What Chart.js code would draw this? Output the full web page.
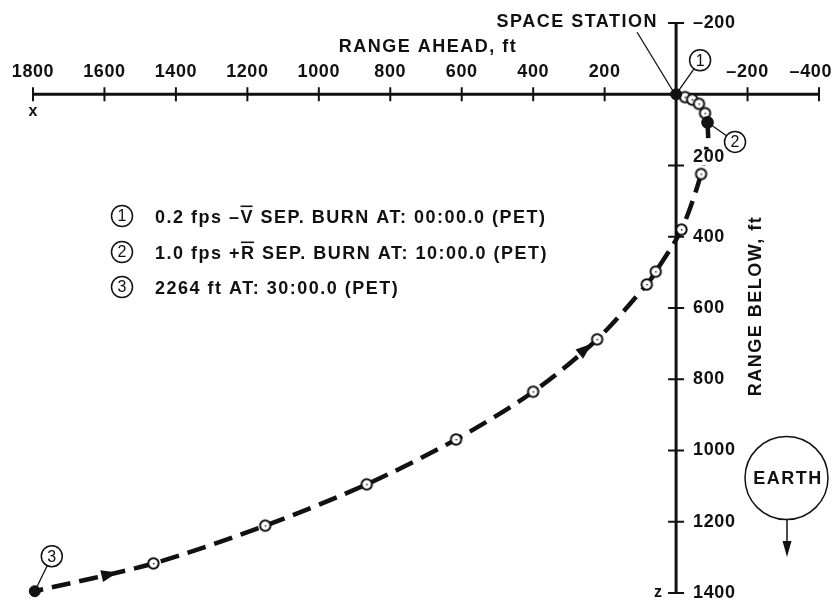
<!DOCTYPE html>
<html>
<head>
<meta charset="utf-8">
<script src="https://cdn.jsdelivr.net/npm/chart.js@4.4.1/dist/chart.umd.min.js"></script>
<style>
  html, body { margin: 0; padding: 0; background: #fff; }
  #chart { display: block; }
</style>
</head>
<body>
<canvas id="chart" width="834" height="600"></canvas>
<script>
// axes (ft): x = range ahead, z = range below
const xTicks = [1800, 1600, 1400, 1200, 1000, 800, 600, 400, 200, 0, -200, -400];
const xTickLabels = ['1800', '1600', '1400', '1200', '1000', '800', '600', '400', '200', '', '–200', '–400'];
const zTicks = [-200, 0, 200, 400, 600, 800, 1000, 1200, 1400];
const zTickLabels = ['–200', '', '200', '400', '600', '800', '1000', '1200', '1400'];

// after the -V sep burn, out to the +R burn
const sepX = [0, -25, -45, -64, -81, -88];
const sepZ = [0, 8, 15, 27, 53, 79];
// the +R burn
const burnX = [-88, -90];
const burnZ = [79, 123];
// drift after the +R burn, out to 30:00
const driftX = [-90, -70, -15, 57, 82, 221, 400, 616, 866, 1150, 1463, 1795];
const driftZ = [123, 224, 380, 498, 534, 688, 835, 969, 1095, 1211, 1317, 1395];
// numbered events
const eventX = [0, -88, 1795];
const eventZ = [0, 79, 1395];
const eventNums = ['1', '2', '3'];
// where the arrowheads sit on the drift path (range ahead)
const arrowAtX = [1575, 245];

// key text, odd parts carry an overbar
const notes = [
  ['0.2 fps –', 'V', ' SEP. BURN AT: 00:00.0 (PET)'],
  ['1.0 fps +', 'R', ' SEP. BURN AT: 10:00.0 (PET)'],
  ['2264 ft AT: 30:00.0 (PET)']
];

const FONT = '"Liberation Sans", Arial, Helvetica, sans-serif';
const INK = '#111';

const pts = (xs, zs) => xs.map((v, i) => ({x: v, y: zs[i]}));

// open circle with a dot in the middle
const openDot = (() => {
  const c = document.createElement('canvas');
  c.width = 15; c.height = 15;
  const g = c.getContext('2d');
  g.beginPath();
  g.arc(7.5, 7.5, 5.2, 0, Math.PI * 2);
  g.fillStyle = '#fff';
  g.fill();
  g.lineWidth = 2;
  g.strokeStyle = INK;
  g.stroke();
  g.fillStyle = INK;
  g.fillRect(7, 7, 1.4, 1.4);
  return c;
})();

function circledNum(ctx, cx, cy, n) {
  ctx.beginPath();
  ctx.arc(cx, cy, 10.5, 0, Math.PI * 2);
  ctx.fillStyle = '#fff';
  ctx.fill();
  ctx.lineWidth = 1.5;
  ctx.strokeStyle = INK;
  ctx.stroke();
  ctx.fillStyle = INK;
  ctx.font = '16px ' + FONT;
  ctx.letterSpacing = '0px';
  ctx.textAlign = 'center';
  ctx.textBaseline = 'middle';
  ctx.fillText(n, cx, cy + 1);
}

const onLine = (line, px) => {
  const p = line.interpolate({x: px}, 'x');
  return Array.isArray(p) ? p[0] : p;
};

const crossAxes = {
  id: 'crossAxes',
  beforeDatasetsDraw(chart) {
    const {ctx, scales: {x, y}} = chart;
    const x0 = x.getPixelForValue(0), y0 = y.getPixelForValue(0);
    ctx.save();
    ctx.strokeStyle = INK;
    ctx.lineWidth = 3;
    ctx.beginPath();
    ctx.moveTo(x.getPixelForValue(xTicks[0]), y0);
    ctx.lineTo(x.getPixelForValue(xTicks[xTicks.length - 1]), y0);
    ctx.moveTo(x0, y.getPixelForValue(zTicks[0]));
    ctx.lineTo(x0, y.getPixelForValue(zTicks[zTicks.length - 1]));
    ctx.stroke();
    ctx.lineWidth = 2;
    ctx.beginPath();
    xTicks.forEach(v => {
      if (v === 0) return;
      const px = x.getPixelForValue(v);
      ctx.moveTo(px, y0 - 7);
      ctx.lineTo(px, y0 + 7);
    });
    zTicks.forEach(v => {
      if (v === 0) return;
      const py = y.getPixelForValue(v);
      ctx.moveTo(x0 - 8, py);
      ctx.lineTo(x0 + 8, py);
    });
    ctx.stroke();
    ctx.restore();
  },
  afterDatasetsDraw(chart) {
    const {ctx, scales: {x, y}} = chart;
    const x0 = x.getPixelForValue(0), y0 = y.getPixelForValue(0);
    ctx.save();
    ctx.fillStyle = INK;

    // tick labels
    ctx.font = 'bold 18px ' + FONT;
    ctx.letterSpacing = '0.6px';
    ctx.textBaseline = 'middle';
    ctx.textAlign = 'center';
    xTicks.forEach((v, i) => {
      const t = xTickLabels[i];
      if (!t) return;
      const w = ctx.measureText(t).width;
      const cx = Math.min(x.getPixelForValue(v), chart.width - 2 - w / 2);
      ctx.fillText(t, cx, y0 - 22);
    });
    ctx.textAlign = 'left';
    zTicks.forEach((v, i) => {
      const t = zTickLabels[i];
      if (!t) return;
      const py = y.getPixelForValue(v) - (v === 200 ? 8 : 0);
      const w = ctx.measureText(t).width;
      ctx.fillStyle = '#fff';
      ctx.fillRect(x0 + 16, py - 8, w + 2, 16);
      ctx.fillStyle = INK;
      ctx.fillText(t, x0 + 17, py);
    });

    // axis letters
    ctx.font = 'bold 16px ' + FONT;
    ctx.letterSpacing = '0px';
    ctx.textAlign = 'center';
    ctx.fillText('x', x.getPixelForValue(xTicks[0]), y0 + 17);
    ctx.fillText('z', x0 - 18, y.getPixelForValue(zTicks[zTicks.length - 1]));

    // titles
    ctx.font = 'bold 18px ' + FONT;
    ctx.letterSpacing = '1.5px';
    ctx.fillText('RANGE AHEAD, ft', 428, 47);
    ctx.save();
    ctx.translate(756, 306);
    ctx.rotate(-Math.PI / 2);
    ctx.fillText('RANGE BELOW, ft', 0, 0);
    ctx.restore();
    ctx.textAlign = 'right';
    ctx.fillText('SPACE STATION', 658, 22);
    ctx.lineWidth = 1.3;
    ctx.strokeStyle = INK;
    ctx.beginPath();
    ctx.moveTo(x0 - 39, y0 - 62);
    ctx.lineTo(x0 - 3, y0 - 3);
    ctx.stroke();

    // arrowheads sitting on the drift path, pointing back toward the station
    const drift = chart.getDatasetMeta(3).dataset;
    arrowAtX.forEach(v => {
      const px = x.getPixelForValue(v);
      const tip = onLine(drift, px);
      const aim = onLine(drift, px + 4);
      if (!tip || !aim) return;
      const a = Math.atan2(aim.y - tip.y, aim.x - tip.x);
      ctx.save();
      ctx.translate(tip.x, tip.y);
      ctx.rotate(a);
      ctx.beginPath();
      ctx.moveTo(4, 0);
      ctx.lineTo(-12, -6);
      ctx.lineTo(-12, 6);
      ctx.closePath();
      ctx.fillStyle = INK;
      ctx.fill();
      ctx.restore();
    });

    // numbered event tags
    const tagOffsets = [[24, -34], [27.5, 19.5], [17, -35]];
    eventX.forEach((v, i) => {
      const px = x.getPixelForValue(v), py = y.getPixelForValue(eventZ[i]);
      const cx = px + tagOffsets[i][0], cy = py + tagOffsets[i][1];
      const len = Math.hypot(px - cx, py - cy);
      const ux = (px - cx) / len, uy = (py - cy) / len;
      ctx.lineWidth = 1.3;
      ctx.strokeStyle = INK;
      ctx.beginPath();
      ctx.moveTo(cx + ux * 10.5, cy + uy * 10.5);
      ctx.lineTo(px - ux * 5, py - uy * 5);
      ctx.stroke();
      circledNum(ctx, cx, cy, eventNums[i]);
    });

    // key
    const keyY = [216, 252, 287];
    notes.forEach((parts, i) => {
      circledNum(ctx, 122, keyY[i], String(i + 1));
      ctx.font = 'bold 18px ' + FONT;
      ctx.letterSpacing = '1.5px';
      ctx.textAlign = 'left';
      ctx.textBaseline = 'alphabetic';
      ctx.fillStyle = INK;
      let tx = 155;
      const base = keyY[i] + 6.5;
      parts.forEach((p, j) => {
        ctx.fillText(p, tx, base);
        const w = ctx.measureText(p).width;
        if (j % 2 === 1) {
          ctx.fillRect(tx, base - 17, w - 1.5, 1.6);
        }
        tx += w;
      });
    });

    // earth
    ctx.lineWidth = 1.5;
    ctx.strokeStyle = INK;
    ctx.beginPath();
    ctx.arc(786.5, 478, 41.5, 0, Math.PI * 2);
    ctx.stroke();
    ctx.font = 'bold 18px ' + FONT;
    ctx.letterSpacing = '1.5px';
    ctx.textAlign = 'center';
    ctx.textBaseline = 'middle';
    ctx.fillText('EARTH', 788, 479);
    ctx.beginPath();
    ctx.moveTo(787, 519.5);
    ctx.lineTo(787, 545);
    ctx.stroke();
    ctx.beginPath();
    ctx.moveTo(787, 557);
    ctx.lineTo(782.5, 541);
    ctx.lineTo(791.5, 541);
    ctx.closePath();
    ctx.fill();

    ctx.restore();
  }
};

new Chart(document.getElementById('chart'), {
  type: 'scatter',
  data: {
    datasets: [{
      label: 'events',
      data: pts(eventX, eventZ),
      showLine: false,
      pointRadius: 5.5,
      pointBackgroundColor: INK,
      pointBorderColor: INK,
      clip: false
    }, {
      label: 'after -V burn',
      data: pts(sepX, sepZ),
      showLine: true,
      borderColor: INK,
      borderWidth: 1.5,
      tension: 0.3,
      pointStyle: openDot,
      pointRadius: ctx => ctx.dataIndex === 0 ? 0 : 4.5,
      clip: false
    }, {
      label: '+R burn',
      data: pts(burnX, burnZ),
      showLine: true,
      borderColor: INK,
      borderWidth: 4.5,
      pointRadius: 0,
      clip: false
    }, {
      label: 'drift',
      data: pts(driftX, driftZ),
      showLine: true,
      borderColor: INK,
      borderWidth: 4.5,
      borderDash: [19, 9],
      borderDashOffset: 19,
      tension: 0.3,
      pointStyle: openDot,
      pointRadius: ctx => (ctx.dataIndex === 0 || ctx.dataIndex === driftX.length - 1) ? 0 : 5,
      clip: false
    }]
  },
  options: {
    responsive: false,
    animation: false,
    devicePixelRatio: 1,
    layout: { padding: { left: 33, right: 15, top: 23, bottom: 7 } },
    plugins: {
      legend: { display: false },
      tooltip: { enabled: false }
    },
    scales: {
      x: { type: 'linear', min: -400, max: 1800, reverse: true, display: false },
      y: { type: 'linear', min: -200, max: 1400, reverse: true, display: false }
    }
  },
  plugins: [crossAxes]
});
</script>
</body>
</html>
